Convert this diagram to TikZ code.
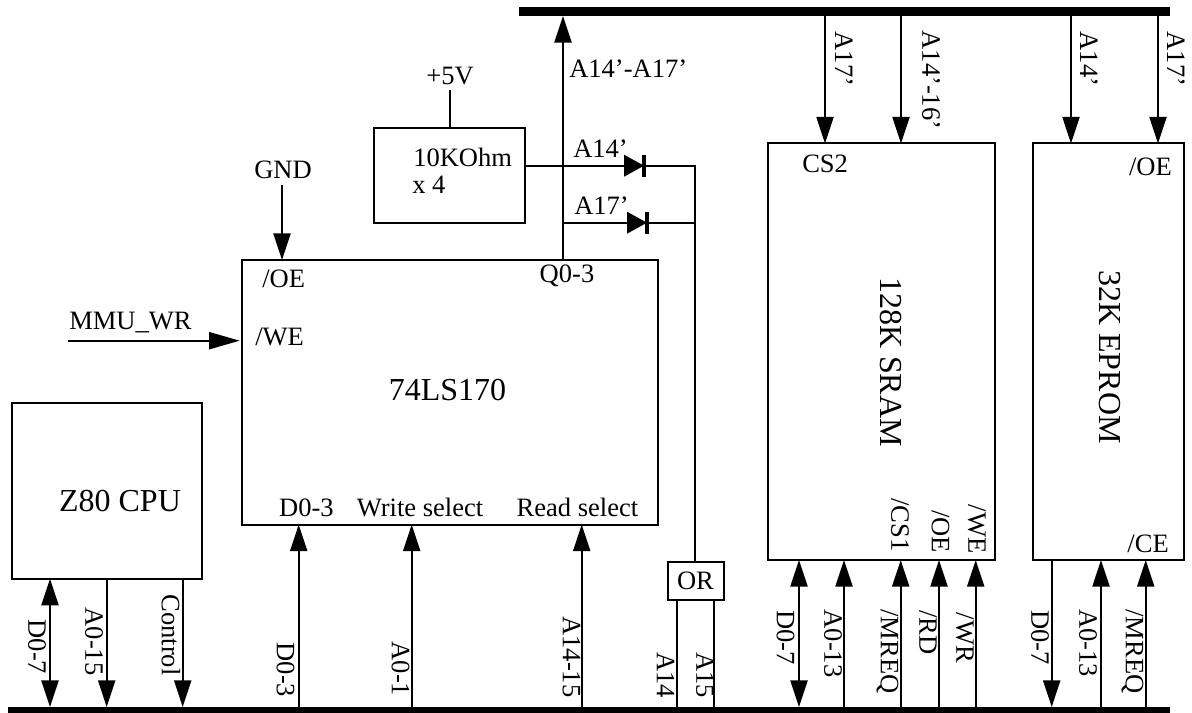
\documentclass[tikz,border=0pt]{standalone}
\usepackage{fontspec}
\setmainfont{Liberation Serif}
\usetikzlibrary{arrows.meta}
\newcommand{\lblsize}{\fontsize{19.9pt}{22pt}\selectfont}
\newcommand{\bigsize}{\fontsize{24pt}{26pt}\selectfont}
\tikzset{
  wire/.style={line width=1.5pt},
  tip/.style={wire,-{Triangle[length=20pt,width=12.8pt]}},
  tiplong/.style={wire,-{Triangle[length=23pt,width=12.8pt]},shorten >=1.5pt},
  tipb/.style={wire,{Triangle[length=20pt,width=12.8pt]}-{Triangle[length=20pt,width=12.8pt]}},
  chip/.style={draw,line width=1.5pt,inner sep=0pt,outer sep=0pt,anchor=north west},
  bus/.style={fill=black,inner sep=0pt,outer sep=0pt,anchor=north west},
  lbl/.style={inner sep=0pt,font=\lblsize},
  lleft/.style={lbl,anchor=west},
  lright/.style={lbl,anchor=east},
  vlbl/.style={lbl,rotate=-90},
  biglbl/.style={inner sep=0pt,font=\bigsize},
}
\begin{document}
\begin{tikzpicture}[x=0.75pt,y=-0.75pt]
\useasboundingbox (0,0) rectangle (1192,713);
% buses
\node[bus,minimum width=651*0.75pt,minimum height=6.75pt] (topbus) at (519,7) {};
\node[bus,minimum width=1162*0.75pt,minimum height=6.75pt] (botbus) at (8,707) {};
% chips
\node[chip,minimum width=190*0.75pt,minimum height=175.7*0.75pt] (cpu) at (12,403) {};
\node[chip,minimum width=416*0.75pt,minimum height=264.5*0.75pt] (latch) at (241.7,260) {};
\node[chip,minimum width=151*0.75pt,minimum height=95*0.75pt] (res) at (374,127.7) {};
\node[chip,minimum width=227*0.75pt,minimum height=416.5*0.75pt] (sram) at (768,143.5) {};
\node[chip,minimum width=151*0.75pt,minimum height=416.5*0.75pt] (eprom) at (1033,143.5) {};
\node[chip,minimum width=56*0.75pt,minimum height=38*0.75pt] (orgate) at (668,562) {};
\node[lbl] (ortext) at (695.5,581) {OR};
% free-end coordinates
\coordinate (xa) at (563,0);
\coordinate (vcc) at (450,90);
\coordinate (gnd) at (282,185);
\coordinate (mmu) at (68,340.7);
\coordinate (d1) at (644,165.7);
\coordinate (d2) at (647,222.7);
\coordinate (orj) at (695,165.7);
\coordinate (orjb) at (695,222.7);
\coordinate (xa1) at (50,0);
\coordinate (xa2) at (106.7,0);
\coordinate (xa3) at (182.7,0);
\coordinate (xb1) at (298.7,0);
\coordinate (xb2) at (411.7,0);
\coordinate (xb3) at (581.7,0);
\coordinate (xc1) at (677,0);
\coordinate (xc2) at (714,0);
\coordinate (xd1) at (799,0);
\coordinate (xd2) at (844,0);
\coordinate (xd3) at (900.7,0);
\coordinate (xd4) at (939,0);
\coordinate (xd5) at (975.7,0);
\coordinate (xe1) at (1051.7,0);
\coordinate (xe2) at (1101,0);
\coordinate (xe3) at (1145.7,0);
\coordinate (xf1) at (825,0);
\coordinate (xf2) at (901,0);
\coordinate (xf3) at (1071,0);
\coordinate (xf4) at (1158,0);
% connectors
\draw[tip] (latch.north -| xa) -- (topbus.south -| xa);
\draw[wire] (vcc) -- (res.north -| vcc);
\draw[tip] (gnd) -- (latch.north -| gnd);
\draw[tiplong] (mmu) -- (latch.west |- mmu);
\draw[wire] (res.east |- d1) -- (d1) -- (orj) -- (orgate.north -| orj);
\draw[wire] (xa |- d2) -- (d2) -- (orjb);
\fill (d1) ++(-20,-11) -- ++(20,11) -- ++(-20,11) -- cycle;
\fill (d2) ++(-20,-11) -- ++(20,11) -- ++(-20,11) -- cycle;
\draw[line width=2.4pt] (d1) ++(0,-11) -- ++(0,22);
\draw[line width=2.4pt] (d2) ++(0,-11) -- ++(0,22);
\draw[tipb] (cpu.south -| xa1) -- (botbus.north -| xa1);
\draw[tip] (cpu.south -| xa2) -- (botbus.north -| xa2);
\draw[tip] (cpu.south -| xa3) -- (botbus.north -| xa3);
\draw[tip] (botbus.north -| xb1) -- (latch.south -| xb1);
\draw[tip] (botbus.north -| xb2) -- (latch.south -| xb2);
\draw[tip] (botbus.north -| xb3) -- (latch.south -| xb3);
\draw[wire] (botbus.north -| xc1) -- (orgate.south -| xc1);
\draw[wire] (botbus.north -| xc2) -- (orgate.south -| xc2);
\draw[tipb] (sram.south -| xd1) -- (botbus.north -| xd1);
\draw[tip] (botbus.north -| xd2) -- (sram.south -| xd2);
\draw[tip] (botbus.north -| xd3) -- (sram.south -| xd3);
\draw[tip] (botbus.north -| xd4) -- (sram.south -| xd4);
\draw[tip] (botbus.north -| xd5) -- (sram.south -| xd5);
\draw[tip] (eprom.south -| xe1) -- (botbus.north -| xe1);
\draw[tip] (botbus.north -| xe2) -- (eprom.south -| xe2);
\draw[tip] (botbus.north -| xe3) -- (eprom.south -| xe3);
\draw[tip] (topbus.south -| xf1) -- (sram.north -| xf1);
\draw[tip] (topbus.south -| xf2) -- (sram.north -| xf2);
\draw[tip] (topbus.south -| xf3) -- (eprom.north -| xf3);
\draw[tip] (topbus.south -| xf4) -- (eprom.north -| xf4);
% horizontal labels
\node[lleft] (t1) at (569,69) {A14’-A17’};
\node[lbl] (t2) at (450,76) {+5V};
\node[lleft] (t3) at (413,157.5) {10KOhm};
\node[lleft] (t4) at (412,185) {x 4};
\node[lleft] (t5) at (573,149) {A14’};
\node[lleft] (t6) at (574,206) {A17’};
\node[lbl] (t7) at (567,276) {Q0-3};
\node[lbl] (t8) at (283,170) {GND};
\node[lleft] (t9) at (262,279) {/OE};
\node[lleft] (t10) at (255,337) {/WE};
\node[lleft] (t11) at (69,323) {MMU\_WR};
\node[biglbl] (t12) at (447.5,390) {74LS170};
\node[lbl] (t13) at (306.5,507.5) {D0-3};
\node[lbl] (t14) at (420,507.5) {Write select};
\node[lbl] (t15) at (577.5,507.5) {Read select};
\node[biglbl] (t16) at (120,501) {Z80 CPU};
\node[lleft] (t17) at (802,163.5) {CS2};
\node[lright] (t18) at (1172,167) {/OE};
\node[lright] (t19) at (1169,543.5) {/CE};
% rotated labels
\node[biglbl,rotate=-90] (r1) at (891,362) {128K SRAM};
\node[biglbl,rotate=-90] (r2) at (1110,357) {32K EPROM};
\node[vlbl] (r3) at (37,647) {D0-7};
\node[vlbl] (r4) at (94,641.5) {A0-15};
\node[vlbl] (r5) at (171,635) {Control};
\node[vlbl] (r6) at (285.5,670) {D0-3};
\node[vlbl] (r7) at (400.5,669) {A0-1};
\node[vlbl] (r8) at (571.5,657) {A14-15};
\node[vlbl] (r9) at (665.5,675) {A14};
\node[vlbl] (r10) at (705,675) {A15};
\node[vlbl] (r11) at (785.5,637.5) {D0-7};
\node[vlbl] (r12) at (833,643.5) {A0-13};
\node[vlbl] (r13) at (887.5,651.5) {/MREQ};
\node[vlbl] (r14) at (928,632.5) {/RD};
\node[vlbl] (r15) at (965,638) {/WR};
\node[vlbl] (r16) at (1040,637.5) {D0-7};
\node[vlbl] (r17) at (1088,643) {A0-13};
\node[vlbl] (r18) at (1132.5,651.5) {/MREQ};
\node[vlbl] (r19) at (900,525) {/CS1};
\node[vlbl] (r20) at (940.5,531.5) {/OE};
\node[vlbl] (r21) at (977,529) {/WE};
\node[vlbl] (r22) at (844,59) {A17’};
\node[vlbl] (r23) at (931,80) {A14’-16’};
\node[vlbl] (r24) at (1089,59) {A14’};
\node[vlbl] (r25) at (1176,59) {A17’};
\end{tikzpicture}
\end{document}
